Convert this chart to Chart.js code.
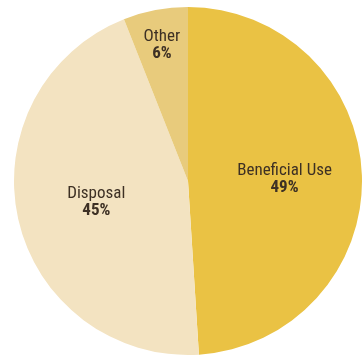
<!DOCTYPE html>
<html>
<head>
<meta charset="utf-8">
<script src="https://cdn.jsdelivr.net/npm/chart.js@4"></script>
<style>
  html, body { margin: 0; padding: 0; background: #fff; overflow: hidden; }
  #wrap { width: 362px; height: 360px; }
</style>
</head>
<body>
<div id="wrap"><canvas id="pieChart" width="362" height="360"></canvas></div>
<script>
// Chart data
const categories = ["Beneficial Use", "Disposal", "Other"];
const shares = [49, 45, 6];
const sliceColors = ["#EAC244", "#F3E3C1", "#E8CB7C"];

// Where each label sits, as a fraction of the radius
const labelRadius = [0.555, 0.54, 0.8];

const labelFont = "'Liberation Sans Narrow', 'Roboto Condensed', 'Roboto', sans-serif";

const sliceLabels = {
    id: "sliceLabels",
    afterDatasetsDraw(chart) {
        const ctx = chart.ctx;
        const meta = chart.getDatasetMeta(0);
        ctx.save();
        ctx.textAlign = "center";
        ctx.textBaseline = "alphabetic";
        ctx.fillStyle = "#3d3024";
        meta.data.forEach((arc, i) => {
            const mid = (arc.startAngle + arc.endAngle) / 2;
            const r = arc.outerRadius * labelRadius[i];
            const x = arc.x + Math.cos(mid) * r;
            const y = arc.y + Math.sin(mid) * r;
            ctx.font = "17px " + labelFont;
            ctx.fillText(categories[i], x, y - 3);
            ctx.font = "bold 17px " + labelFont;
            ctx.fillText(shares[i] + "%", x, y + 14);
        });
        ctx.restore();
    },
};

new Chart(document.getElementById("pieChart"), {
    type: "pie",
    data: {
        labels: categories,
        datasets: [{
            data: shares,
            backgroundColor: sliceColors,
            borderWidth: 0,
        }],
    },
    options: {
        responsive: false,
        animation: false,
        layout: { padding: { left: 14, right: 0, top: 7, bottom: 5 } },
        plugins: {
            legend: { display: false },
            tooltip: { enabled: false },
        },
    },
    plugins: [sliceLabels],
});
</script>
</body>
</html>
